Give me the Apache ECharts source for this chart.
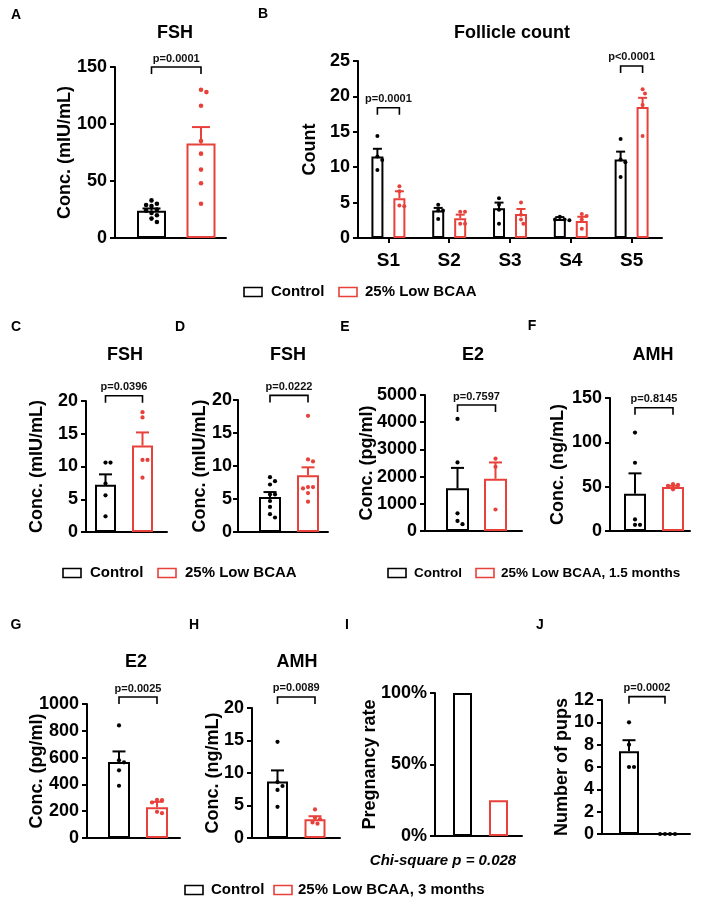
<!DOCTYPE html>
<html>
<head>
<meta charset="utf-8">
<script src="https://cdn.jsdelivr.net/npm/echarts@6/dist/echarts.min.js"></script>
<style>
html, body { margin: 0; padding: 0; background: #fff; }
#chart { width: 709px; height: 911px; }
</style>
</head>
<body>
<div id="chart"></div>
<script>
// values
const stages = ['S1', 'S2', 'S3', 'S4', 'S5'];

// A - FSH
const fshA_mean = [24, 83];
const fshA_sem = [1.9, 14.3];
const fshA_ctrl = [33, 30, 29, 28, 25, 24, 22, 20, 17, 14];
const fshA_bcaa = [130, 128, 116, 85, 74, 60, 48, 30];

// B - follicle count
const follCtrl_mean = [11.5, 3.9, 4.2, 2.7, 11.1];
const follCtrl_sem = [1.1, 0.35, 0.8, 0.25, 1.1];
const follBcaa_mean = [5.6, 2.8, 3.4, 2.4, 18.5];
const follBcaa_sem = [1.0, 0.5, 0.7, 0.6, 1.3];
const follCtrl_pts = [[14.4, 11.5, 11.0, 9.6], [4.7, 3.9, 3.9, 2.7], [5.6, 4.7, 4.0, 2.0], [3.0, 2.6, 2.6, 2.5], [14.0, 11.1, 10.7, 8.6]];
const follBcaa_pts = [[7.3, 6.6, 4.6, 4.5], [3.7, 3.7, 2.0, 2.0], [5.0, 3.3, 2.6, 2.0], [3.4, 3.1, 2.6, 1.3], [21.0, 20.4, 18.8, 14.4]];

// C - FSH
const fshC_mean = [7.2, 13.2];
const fshC_sem = [1.6, 2.0];
const fshC_ctrl = [10.6, 10.6, 7.4, 5.6, 2.4];
const fshC_bcaa = [18.3, 17.5, 11.0, 11.0, 8.3];

// D - FSH
const fshD_mean = [5.3, 8.6];
const fshD_sem = [0.75, 1.2];
const fshD_ctrl = [8.3, 7.7, 7.2, 5.7, 5.7, 4.7, 3.8, 2.7, 2.2];
const fshD_bcaa = [17.6, 11.0, 10.7, 6.8, 6.8, 6.6, 5.9, 4.6];

// E - E2, 1.5 months
const e2E_mean = [1570, 1920];
const e2E_sem = [750, 600];
const e2E_ctrl = [4120, 2520, 650, 370, 250];
const e2E_bcaa = [2660, 2360, 790];

// F - AMH, 1.5 months
const amhF_mean = [42, 49.5];
const amhF_sem = [23, 1.5];
const amhF_ctrl = [111, 77, 13, 7, 7];
const amhF_bcaa = [53, 52, 51, 47];

// G - E2, 3 months
const e2G_mean = [568, 230];
const e2G_sem = [78, 40];
const e2G_ctrl = [840, 580, 565, 505, 390];
const e2G_bcaa = [285, 282, 265, 195, 185];

// H - AMH, 3 months
const amhH_mean = [8.7, 2.9];
const amhH_sem = [1.7, 0.45];
const amhH_ctrl = [14.8, 8.6, 8.0, 7.4, 4.8];
const amhH_bcaa = [4.4, 3.1, 2.9, 2.4, 2.2];

// I - pregnancy rate (%)
const pregI_rate = [100, 25];

// J - number of pups
const pupsJ_mean = [7.4, 0];
const pupsJ_sem = [1.0, 0];
const pupsJ_ctrl = [10, 8, 6, 6];
const pupsJ_bcaa = [0, 0, 0, 0];

const RED = '#e8403a';
const BLACK = '#000';
const FONT = '"Liberation Sans", Arial, sans-serif';

const grids = [], xAxes = [], yAxes = [], series = [], graphics = [];

// simple beeswarm: push dots sideways so they do not overlap
function swarm(ys, r) {
  const d = 2 * r + 0.8, placed = [];
  const cands = [0];
  for (let k = 1; k < 14; k++) cands.push(k * d / 2, -k * d / 2);
  return ys.map(y => {
    for (const dx of cands) {
      if (placed.every(p => (p[0] - dx) ** 2 + (p[1] - y) ** 2 >= d * d)) {
        placed.push([dx, y]);
        return dx;
      }
    }
    return 0;
  });
}

function addPanel(o) {
  const i = grids.length;
  const offs = o.offsets || [0, 0];
  const dotR = o.dotR || 2.1;
  grids.push({ left: o.L, top: o.T, width: o.R - o.L, height: o.B - o.T });

  const line = { show: true, onZero: false, lineStyle: { color: BLACK, width: 2 } };
  if (o.cats) {
    xAxes.push({
      gridIndex: i, type: 'category', data: o.cats,
      axisLine: line,
      axisTick: { show: true, alignWithLabel: true, length: 5, lineStyle: { color: BLACK, width: 2 } },
      axisLabel: { fontSize: 19, fontWeight: 'bold', color: BLACK, fontFamily: FONT, margin: 13 },
      splitLine: { show: false }
    });
  } else {
    const s = o.c1 - o.c0;
    xAxes.push({
      gridIndex: i, type: 'value', min: (o.L - o.c0) / s, max: 1 + (o.R - o.c1) / s,
      axisLine: line, axisTick: { show: false }, axisLabel: { show: false }, splitLine: { show: false }
    });
  }
  yAxes.push({
    gridIndex: i, type: 'value', min: 0, max: o.max, interval: o.step,
    name: o.yName, nameLocation: 'middle', nameGap: o.nameGap, nameRotate: 90, nameMoveOverlap: false,
    nameTextStyle: { fontSize: 18, fontWeight: 'bold', color: BLACK, fontFamily: FONT },
    axisLine: line,
    axisTick: { show: true, length: 5, lineStyle: { color: BLACK, width: 2 } },
    axisLabel: { fontSize: 18, fontWeight: 'bold', color: BLACK, fontFamily: FONT, margin: o.labelMargin || 8,
      formatter: v => String(v) + (o.pct ? '%' : '') },
    splitLine: { show: false }
  });

  const styleFor = (g, m) => ({ color: '#fff', borderColor: g ? RED : BLACK, borderWidth: m > 0 ? 2 : 0 });

  // bars
  if (o.cats) {
    o.groups.forEach((grp, g) => {
      series.push({
        type: 'bar', name: g ? '25% Low BCAA' : 'Control', xAxisIndex: i, yAxisIndex: i,
        barWidth: o.barW, barGap: o.barGap, z: 2,
        itemStyle: styleFor(g, 1), data: grp.mean
      });
    });
  } else {
    series.push({
      type: 'bar', xAxisIndex: i, yAxisIndex: i, barWidth: o.barW, z: 2,
      data: o.groups.map((grp, g) => ({ value: [g, grp.mean], itemStyle: styleFor(g, grp.mean) }))
    });
  }

  // error bars (upper SEM)
  const errData = [];
  o.groups.forEach((grp, g) => {
    if (!grp.sem) return;
    if (o.cats) grp.mean.forEach((m, c) => errData.push([c, m, grp.sem[c], g]));
    else errData.push([g, grp.mean, grp.sem, g]);
  });
  if (errData.length) {
    series.push({
      type: 'custom', xAxisIndex: i, yAxisIndex: i, z: 3, data: errData,
      renderItem(params, api) {
        const x = api.value(0), m = api.value(1), s = api.value(2), g = api.value(3);
        if (!(s > 0)) return null;
        const p0 = api.coord([x, m]), p1 = api.coord([x, m + s]);
        const cx = p0[0] + offs[g], hw = o.capW / 2;
        const st = { stroke: g ? RED : BLACK, lineWidth: 2 };
        return { type: 'group', children: [
          { type: 'line', shape: { x1: cx, y1: p0[1], x2: cx, y2: p1[1] }, style: st },
          { type: 'line', shape: { x1: cx - hw, y1: p1[1], x2: cx + hw, y2: p1[1] }, style: st }
        ] };
      }
    });
  }

  // individual points
  const sets = {};
  const ptData = [];
  o.groups.forEach((grp, g) => {
    if (!grp.pts) return;
    const lists = o.cats ? grp.pts : [grp.pts];
    lists.forEach((vals, c) => {
      const x = o.cats ? c : g;
      sets[x + '_' + g] = vals;
      vals.forEach((v, k) => ptData.push([x, v, g, k]));
    });
  });
  if (ptData.length) {
    series.push({
      type: 'custom', xAxisIndex: i, yAxisIndex: i, z: 4, data: ptData,
      renderItem(params, api) {
        const x = api.value(0), g = api.value(2), k = api.value(3);
        const vals = sets[x + '_' + g];
        const pix = vals.map(v => api.coord([x, v]));
        const dx = swarm(pix.map(p => p[1]), dotR);
        const col = (o.dotColors || [BLACK, RED])[g];
        return { type: 'circle', shape: { cx: pix[k][0] + offs[g] + dx[k], cy: pix[k][1], r: dotR }, style: { fill: col } };
      }
    });
  }

  // significance brackets
  if (o.brackets) {
    series.push({
      type: 'custom', xAxisIndex: i, yAxisIndex: i, z: 5,
      data: o.brackets.map((b, bi) => [b.x, b.y, bi]),
      renderItem(params, api) {
        const b = o.brackets[api.value(2)];
        const pa = api.coord(o.cats ? [b.x, b.y] : [0, b.y]);
        const pb = api.coord(o.cats ? [b.x, b.y] : [1, b.y]);
        const xa = pa[0] + offs[0], xb = pb[0] + offs[1], y = pa[1];
        const st = { stroke: BLACK, lineWidth: 1.6, fill: null };
        return { type: 'group', children: [
          { type: 'polyline', shape: { points: [[xa, y + 7], [xa, y], [xb, y], [xb, y + 7]] }, style: st },
          { type: 'text', style: { text: b.text, x: (xa + xb) / 2, y: y - 3, textAlign: 'center', textVerticalAlign: 'bottom',
            fontSize: 11, fontWeight: 'bold', fontFamily: FONT, fill: '#111' } }
        ] };
      }
    });
  }
}

addPanel({ L: 115, R: 226, T: 67, B: 238, c0: 151.5, c1: 201, barW: 29, capW: 18, dotR: 2.3,
  max: 150, step: 50, yName: 'Conc. (mIU/mL)', nameGap: 41,
  groups: [{ mean: fshA_mean[0], sem: fshA_sem[0], pts: fshA_ctrl }, { mean: fshA_mean[1], sem: fshA_sem[1], pts: fshA_bcaa }],
  brackets: [{ y: 150, text: 'p=0.0001' }] });

addPanel({ L: 358, R: 662, T: 61, B: 238, cats: stages, barW: 12, barGap: '83%', offsets: [-11, 11], capW: 9, dotR: 2,
  max: 25, step: 5, yName: 'Count', nameGap: 39,
  groups: [{ mean: follCtrl_mean, sem: follCtrl_sem, pts: follCtrl_pts }, { mean: follBcaa_mean, sem: follBcaa_sem, pts: follBcaa_pts }],
  brackets: [{ x: 0, y: 18.4, text: 'p=0.0001' }, { x: 4, y: 24.3, text: 'p<0.0001' }] });

addPanel({ L: 86, R: 167, T: 401, B: 532, c0: 105.5, c1: 142.5, barW: 21, capW: 13,
  max: 20, step: 5, yName: 'Conc. (mIU/mL)', nameGap: 40,
  groups: [{ mean: fshC_mean[0], sem: fshC_sem[0], pts: fshC_ctrl }, { mean: fshC_mean[1], sem: fshC_sem[1], pts: fshC_bcaa }],
  brackets: [{ y: 20.8, text: 'p=0.0396' }] });

addPanel({ L: 238, R: 328, T: 400, B: 532, c0: 270, c1: 308, barW: 22, capW: 13, labelMargin: 6,
  max: 20, step: 5, yName: 'Conc. (mIU/mL)', nameGap: 29,
  groups: [{ mean: fshD_mean[0], sem: fshD_sem[0], pts: fshD_ctrl }, { mean: fshD_mean[1], sem: fshD_sem[1], pts: fshD_bcaa }],
  brackets: [{ y: 20.7, text: 'p=0.0222' }] });

addPanel({ L: 425, R: 522, T: 395, B: 531, c0: 457.5, c1: 495.5, barW: 23, capW: 13,
  max: 5000, step: 1000, yName: 'Conc. (pg/ml)', nameGap: 49,
  groups: [{ mean: e2E_mean[0], sem: e2E_sem[0], pts: e2E_ctrl }, { mean: e2E_mean[1], sem: e2E_sem[1], pts: e2E_bcaa }],
  brackets: [{ y: 4630, text: 'p=0.7597' }] });

addPanel({ L: 610, R: 690, T: 398, B: 531, c0: 635, c1: 673, barW: 22, capW: 13,
  max: 150, step: 50, yName: 'Conc. (ng/mL)', nameGap: 43,
  groups: [{ mean: amhF_mean[0], sem: amhF_sem[0], pts: amhF_ctrl }, { mean: amhF_mean[1], sem: amhF_sem[1], pts: amhF_bcaa }],
  brackets: [{ y: 139, text: 'p=0.8145' }] });

addPanel({ L: 87, R: 180, T: 704, B: 838, c0: 119, c1: 157, barW: 22, capW: 13,
  max: 1000, step: 200, yName: 'Conc. (pg/ml)', nameGap: 41,
  groups: [{ mean: e2G_mean[0], sem: e2G_sem[0], pts: e2G_ctrl }, { mean: e2G_mean[1], sem: e2G_sem[1], pts: e2G_bcaa }],
  brackets: [{ y: 1052, text: 'p=0.0025' }] });

addPanel({ L: 252, R: 340, T: 708, B: 838, c0: 277.5, c1: 315, barW: 21, capW: 13,
  max: 20, step: 5, yName: 'Conc. (ng/mL)', nameGap: 30,
  groups: [{ mean: amhH_mean[0], sem: amhH_sem[0], pts: amhH_ctrl }, { mean: amhH_mean[1], sem: amhH_sem[1], pts: amhH_bcaa }],
  brackets: [{ y: 21.7, text: 'p=0.0089' }] });

addPanel({ L: 435, R: 522, T: 693, B: 836, c0: 462.5, c1: 498.5, barW: 19, pct: true,
  max: 100, step: 50, yName: 'Pregnancy rate', nameGap: 56,
  groups: [{ mean: pregI_rate[0] }, { mean: pregI_rate[1] }] });

addPanel({ L: 602, R: 690, T: 700, B: 834, c0: 629, c1: 665, barW: 20, capW: 13, dotColors: [BLACK, BLACK],
  max: 12, step: 2, yName: 'Number of pups', nameGap: 31,
  groups: [{ mean: pupsJ_mean[0], sem: pupsJ_sem[0], pts: pupsJ_ctrl }, { mean: pupsJ_mean[1], sem: pupsJ_sem[1], pts: pupsJ_bcaa }],
  brackets: [{ y: 12.3, text: 'p=0.0002' }] });

// titles, panel letters, legends
function txt(text, x, y, size, extra) {
  graphics.push({ type: 'text', x: x, y: y, style: Object.assign({ text: text, fontSize: size, fontWeight: 'bold',
    fontFamily: FONT, fill: BLACK, textAlign: 'center', textVerticalAlign: 'middle' }, extra || {}) });
}
[['FSH', 175, 33], ['Follicle count', 512, 33], ['FSH', 125, 355], ['FSH', 288, 355], ['E2', 473, 355],
 ['AMH', 653, 355], ['E2', 136, 662], ['AMH', 297, 662]].forEach(t => txt(t[0], t[1], t[2], 18));
[['A', 16, 15], ['B', 263, 14], ['C', 16, 327], ['D', 180, 327], ['E', 345, 327], ['F', 532, 326],
 ['G', 16, 625], ['H', 194, 625], ['I', 347, 625], ['J', 540, 625]].forEach(t => txt(t[0], t[1], t[2], 14));
txt('Chi-square p = 0.028', 443, 861, 15, { fontStyle: 'italic' });

function legend(y, size, items) {
  items.forEach(it => {
    graphics.push({ type: 'rect', shape: { x: it[0], y: y - 4.5, width: 18, height: 9 },
      style: { fill: '#fff', stroke: it[3], lineWidth: 1.6 } });
    txt(it[2], it[1], y, size, { textAlign: 'left' });
  });
}
legend(292, 15, [[244, 271, 'Control', BLACK], [339, 365, '25% Low BCAA', RED]]);
legend(573, 15, [[63, 90, 'Control', BLACK], [158, 185, '25% Low BCAA', RED]]);
legend(573, 13.5, [[388, 414, 'Control', BLACK], [476, 501, '25% Low BCAA, 1.5 months', RED]]);
legend(890, 15, [[185, 211, 'Control', BLACK], [274, 298, '25% Low BCAA, 3 months', RED]]);

const chart = echarts.init(document.getElementById('chart'));
chart.setOption({
  animation: false,
  backgroundColor: '#fff',
  grid: grids,
  xAxis: xAxes,
  yAxis: yAxes,
  series: series,
  graphic: graphics
});
</script>
</body>
</html>
